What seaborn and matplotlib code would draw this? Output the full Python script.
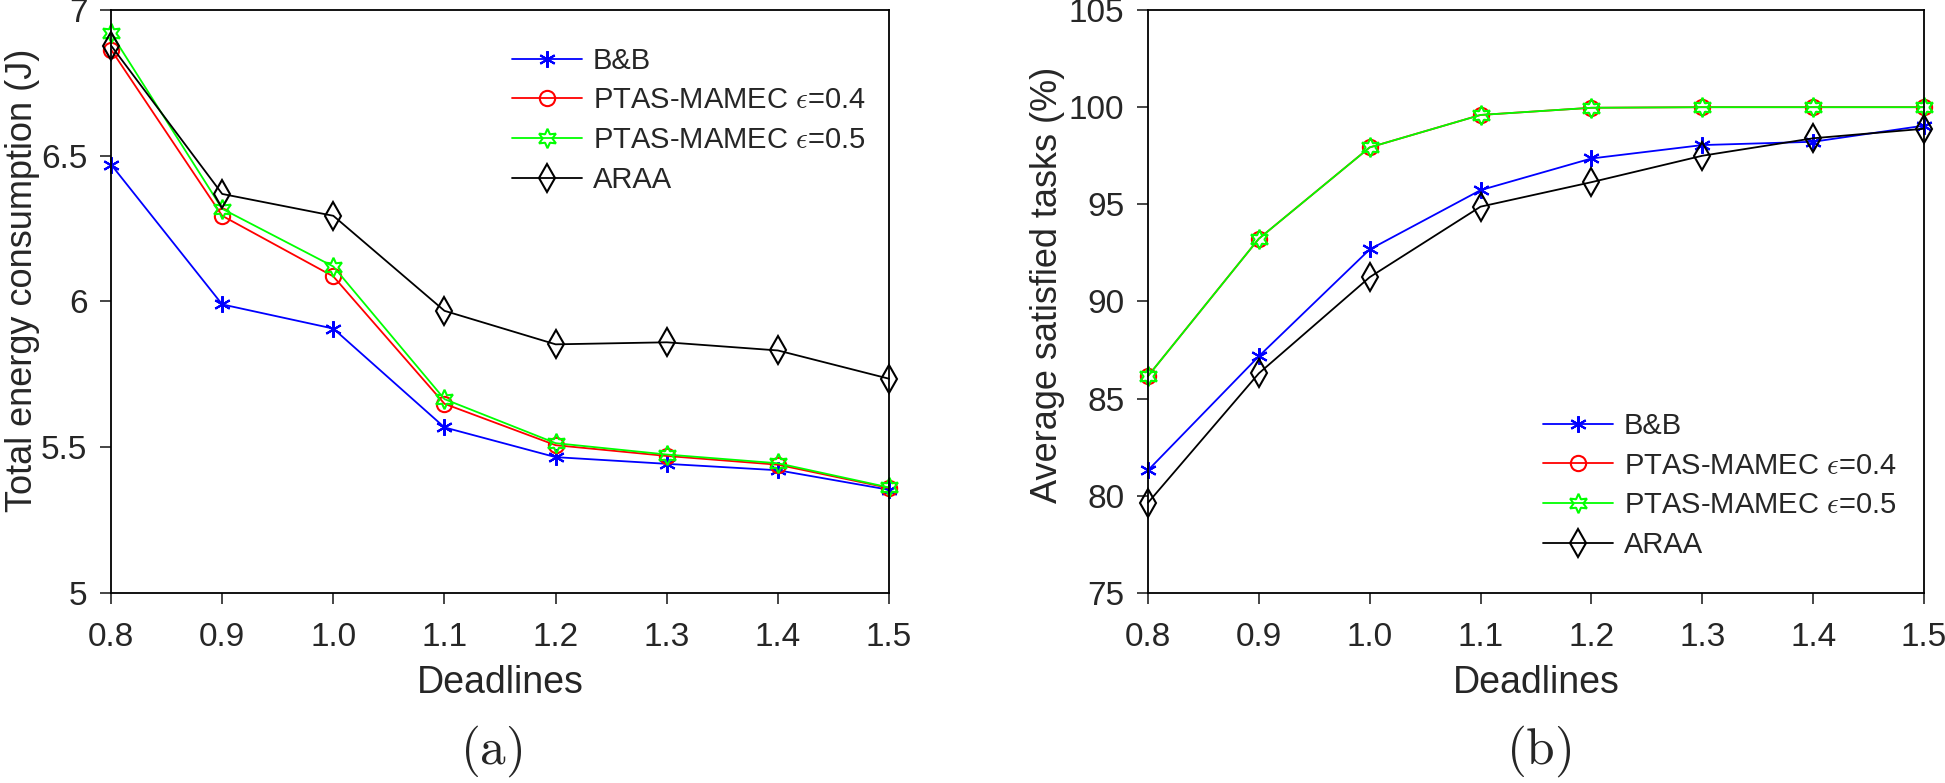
import matplotlib
matplotlib.use("Agg")
import matplotlib.pyplot as plt
import matplotlib.ticker as mticker
import seaborn as sns
import pandas as pd
import numpy as np

# data
deadlines = [0.8, 0.9, 1.0, 1.1, 1.2, 1.3, 1.4, 1.5]

energy_bb = [6.47, 5.99, 5.907, 5.568, 5.466, 5.443, 5.421, 5.354]
energy_ptas04 = [6.864, 6.294, 6.086, 5.649, 5.507, 5.470, 5.440, 5.360]
energy_ptas05 = [6.920, 6.318, 6.120, 5.665, 5.514, 5.475, 5.445, 5.362]
energy_araa = [6.878, 6.369, 6.294, 5.968, 5.853, 5.860, 5.832, 5.735]

sat_bb = [81.31, 87.18, 92.68, 95.73, 97.36, 98.05, 98.22, 99.05]
sat_ptas04 = [86.16, 93.23, 97.93, 99.60, 99.97, 100.0, 100.0, 100.0]
sat_ptas05 = [86.16, 93.23, 97.93, 99.60, 99.97, 100.0, 100.0, 100.0]
sat_araa = [79.64, 86.30, 91.25, 94.88, 96.14, 97.50, 98.40, 98.89]

labels = ["B&B", r"PTAS-MAMEC $\epsilon$=0.4", r"PTAS-MAMEC $\epsilon$=0.5", "ARAA"]
colors = ["#0000ff", "#ff0000", "#00ff00", "#000000"]
markers = [(6, 2, 0), "o", (6, 1, 0), "d"]
msizes = [12, 11, 14, 14]

sns.set_theme(style="ticks")
plt.rcParams['font.family'] = ['Liberation Sans', 'DejaVu Sans']
plt.rcParams['mathtext.fontset'] = 'cm'
plt.rcParams['axes.linewidth'] = 1.3

fig = plt.figure(figsize=(19.45, 7.83), dpi=100)
ax1 = fig.add_axes([0.0571, 0.2427, 0.4, 0.7445])
ax2 = fig.add_axes([0.5902, 0.2427, 0.399, 0.7445])


def draw(ax, series):
    for i, vals in enumerate(series):
        df = pd.DataFrame({"x": deadlines, "y": vals})
        sns.lineplot(data=df, x="x", y="y", ax=ax, color=colors[i], marker=markers[i],
                     markersize=msizes[i], markerfacecolor="none", markeredgecolor=colors[i],
                     markeredgewidth=1.5, linewidth=1.3, label=labels[i], clip_on=False)


draw(ax1, [energy_bb, energy_ptas04, energy_ptas05, energy_araa])
draw(ax2, [sat_bb, sat_ptas04, sat_ptas05, sat_araa])

ax1.set_ylim(5, 7)
ax1.set_yticks([5, 5.5, 6, 6.5, 7])
ax1.set_yticklabels(["5", "5.5", "6", "6.5", "7"])
ax1.set_ylabel("Total energy consumption (J)", fontsize=26)
ax1.yaxis.set_label_coords(-0.114, 0.537)

ax2.set_ylim(75, 105)
ax2.set_yticks([75, 80, 85, 90, 95, 100, 105])
ax2.set_ylabel("Average satisfied tasks (%)", fontsize=26)
ax2.yaxis.set_label_coords(-0.129, 0.528)

for ax in (ax1, ax2):
    ax.set_xlim(0.8, 1.5)
    ax.set_xticks(deadlines)
    ax.xaxis.set_major_formatter(mticker.FormatStrFormatter('%.1f'))
    ax.set_xlabel("Deadlines", fontsize=27)
    ax.xaxis.label.set_verticalalignment("center")
    ax.xaxis.set_label_coords(0.5, -0.154)
    ax.yaxis.label.set_verticalalignment("center")
    ax.tick_params(axis="both", direction="out", length=8, width=1.2, labelsize=24,
                   labelcolor="#262626", pad=9, top=False, right=False)
    ax.tick_params(axis="x", pad=13)
    for s in ax.spines.values():
        s.set_visible(True)
        s.set_color("black")

leg_kw = dict(frameon=False, fontsize=21, handlelength=2.4, handletextpad=0.38,
              labelspacing=0.40, borderpad=0, borderaxespad=0)
ax1.legend(loc="upper left", bbox_to_anchor=(0.515, 0.937), **leg_kw)
ax2.legend(loc="upper left", bbox_to_anchor=(0.509, 0.3105), **leg_kw)

fig.text(0.2525, 0.040, r"$\mathrm{(a)}$", fontsize=37, ha="center", va="center")
fig.text(0.791, 0.040, r"$\mathrm{(b)}$", fontsize=37, ha="center", va="center")

fig.savefig("out.png", dpi=100)
